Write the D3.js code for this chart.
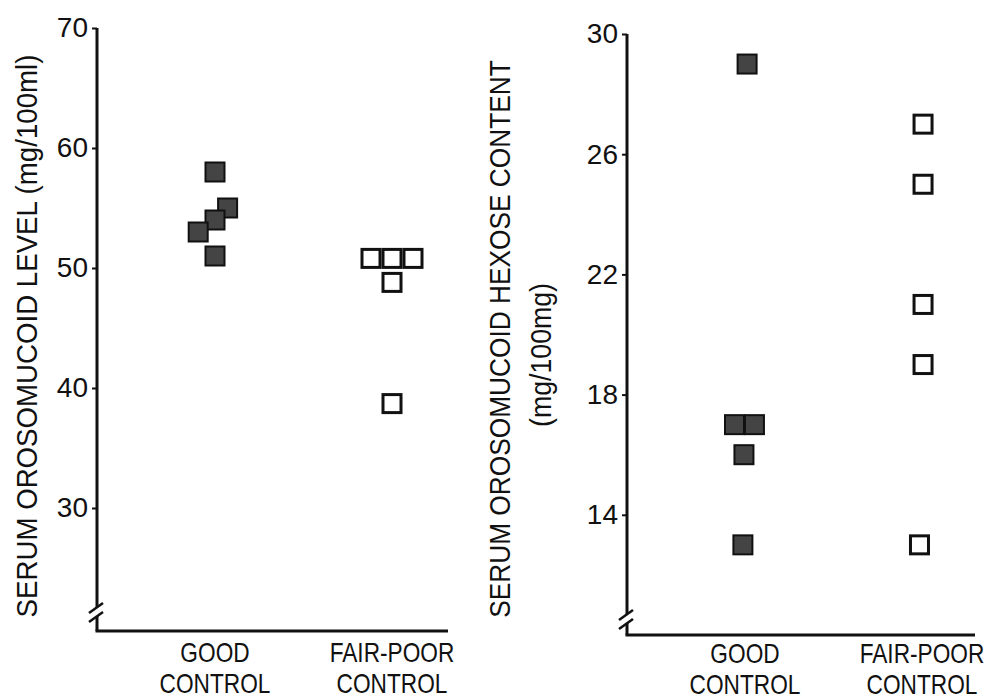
<!DOCTYPE html>
<html>
<head>
<meta charset="utf-8">
<script src="https://cdn.jsdelivr.net/npm/d3@7/dist/d3.min.js"></script>
<style>
  html, body { margin: 0; padding: 0; background: #fff; }
  svg { display: block; }
  text { font-family: "Liberation Sans", Arial, sans-serif; fill: #111; }
</style>
</head>
<body>
<svg id="chart" width="997" height="700"></svg>
<script>
// ---------- data ----------
const categories = ["GOOD", "FAIR-POOR"];
const categoryLines = [["GOOD", "CONTROL"], ["FAIR-POOR", "CONTROL"]];

// Left panel: serum orosomucoid level (mg/100ml)
const leftTicks = [30, 40, 50, 60, 70];
const leftGood = [58, 55, 54, 53, 51];
const leftGoodJitter = [0, 0.6, 0, -0.8, 0];        // in marker widths
const leftFair = [50.8, 50.8, 50.8, 48.8, 38.7];
const leftFairJitter = [-1, 0, 1, 0, 0];

// Right panel: serum orosomucoid hexose content (mg/100mg)
const rightTicks = [14, 18, 22, 26, 30];
const rightGood = [29, 17, 17, 16, 13];
const rightGoodJitter = [0.1, -0.5, 0.45, -0.05, -0.1];
const rightFair = [27, 25, 21, 19, 13];
const rightFairJitter = [0.05, 0.05, 0.05, 0.05, -0.12];

const leftTitle = ["SERUM  OROSOMUCOID  LEVEL  (mg/100ml)"];
const rightTitle = ["SERUM  OROSOMUCOID  HEXOSE  CONTENT", "(mg/100mg)"];

// ---------- layout ----------
const svg = d3.select("#chart");
const M = 21; // marker size

const panels = [
  {
    x0: 97, x1: 448, yTop: 28, yBottom: 631, domain: [19.75, 70],
    ticks: leftTicks, good: leftGood, goodJ: leftGoodJitter,
    fair: leftFair, fairJ: leftFairJitter,
    title: leftTitle,
    titlePos: [{x: 37, y: 336, len: 563}],
    labelY: [662, 693], breakY: 612
  },
  {
    x0: 627, x1: 975, yTop: 34, yBottom: 635, domain: [10, 30],
    ticks: rightTicks, good: rightGood, goodJ: rightGoodJitter,
    fair: rightFair, fairJ: rightFairJitter,
    title: rightTitle,
    titlePos: [{x: 510, y: 339, len: 558}, {x: 551, y: 355, len: 144}],
    labelY: [663, 694], breakY: 619
  }
];

panels.forEach(p => {
  const g = svg.append("g");
  const y = d3.scaleLinear().domain(p.domain).range([p.yBottom, p.yTop]);
  const x = d3.scalePoint().domain(categories).range([p.x0 + 118, p.x0 + 295]);

  // y axis ticks and labels
  const ax = g.append("g")
    .attr("transform", `translate(${p.x0},0)`)
    .call(d3.axisLeft(y).tickValues(p.ticks).tickSize(5).tickPadding(4).tickFormat(d3.format("d")));
  ax.select(".domain").remove();
  ax.selectAll(".tick line").attr("stroke", "#111").attr("stroke-width", 2);
  ax.selectAll(".tick text")
    .style("font-size", "28px")
    .style("font-family", "'Liberation Sans', Arial, sans-serif")
    .attr("fill", "#111");

  // axis lines
  g.append("line")
    .attr("x1", p.x0).attr("x2", p.x0)
    .attr("y1", y(p.domain[1])).attr("y2", p.yBottom)
    .attr("stroke", "#111").attr("stroke-width", 3);
  g.append("line")
    .attr("x1", p.x0 - 1.5).attr("x2", p.x1)
    .attr("y1", p.yBottom).attr("y2", p.yBottom)
    .attr("stroke", "#111").attr("stroke-width", 3);

  // axis break mark
  const b = p.breakY;
  g.append("polygon")
    .attr("points", `${p.x0-8},${b+1} ${p.x0+6},${b-9} ${p.x0+6},${b} ${p.x0-8},${b+10}`)
    .attr("fill", "#fff");
  [0, 9].forEach(o => {
    g.append("line")
      .attr("x1", p.x0 - 8).attr("y1", b + 1 + o)
      .attr("x2", p.x0 + 6).attr("y2", b - 9 + o)
      .attr("stroke", "#111").attr("stroke-width", 2.5);
  });

  // category labels
  categories.forEach((c, i) => {
    categoryLines[i].forEach((line, j) => {
      g.append("text")
        .attr("transform", `translate(${x(c)},${p.labelY[j]}) scale(0.84,1)`)
        .attr("text-anchor", "middle")
        .style("font-size", "27px")
        .text(line);
    });
  });

  // y titles (compressed horizontally to fit the measured length)
  p.title.forEach((t, j) => {
    const tp = p.titlePos[j];
    const txt = g.append("text")
      .attr("text-anchor", "middle")
      .style("font-size", "30px")
      .text(t);
    const natural = txt.node().getComputedTextLength();
    const sx = tp.len / natural;
    txt.attr("transform", `translate(${tp.x},${tp.y}) rotate(-90) scale(${sx},1)`);
  });

  // markers
  const goodData = p.good.map((v, i) => ({v, j: p.goodJ[i]}));
  const fairData = p.fair.map((v, i) => ({v, j: p.fairJ[i]}));

  g.selectAll("rect.good").data(goodData).enter().append("rect")
    .attr("class", "good")
    .attr("x", d => x(categories[0]) + d.j * M - (M - 2) / 2)
    .attr("y", d => y(d.v) - (M - 2) / 2)
    .attr("width", M - 2).attr("height", M - 2)
    .attr("fill", "#444").attr("stroke", "#111").attr("stroke-width", 2);

  g.selectAll("rect.fair").data(fairData).enter().append("rect")
    .attr("class", "fair")
    .attr("x", d => x(categories[1]) + d.j * M - (M - 3) / 2)
    .attr("y", d => y(d.v) - (M - 3) / 2)
    .attr("width", M - 3).attr("height", M - 3)
    .attr("fill", "#fff").attr("stroke", "#111").attr("stroke-width", 3);
});
</script>
</body>
</html>
